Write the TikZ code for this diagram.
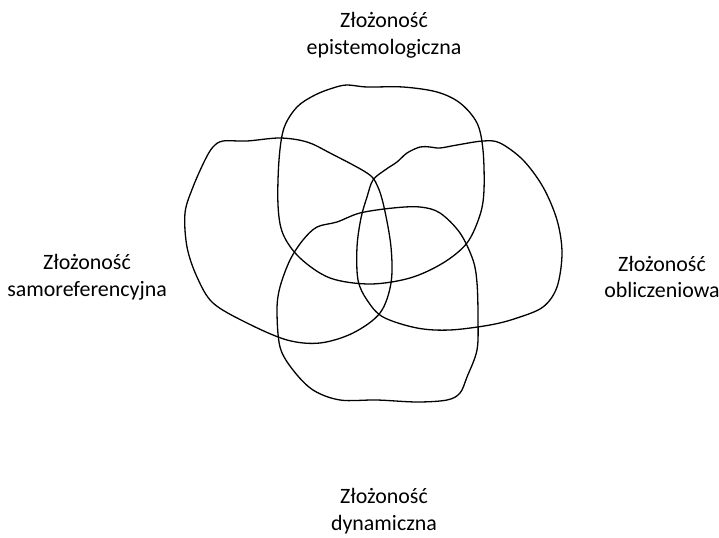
\documentclass[tikz,border=0pt]{standalone}
\usepackage{fontspec}
\setmainfont{Carlito}
\begin{document}
\begin{tikzpicture}[x=1bp,y=-1bp,
  loop/.style={draw=black,line width=1.3bp,line join=round},
  label/.style={align=center,font=\fontsize{22}{27}\selectfont,inner sep=0pt}]
\useasboundingbox (0,0) rectangle (719,538);

% epistemological loop (top)
\draw[loop] plot[smooth cycle,tension=0.55] coordinates {
  (347,85) (367,87) (403,87) (437,92) (460,103) (477,123) (483,150)
  (484,190) (480,215) (467,243) (443,263) (410,278) (370,284) (330,278)
  (300,258) (283,234) (278,205) (279,160) (284,128) (297,107) (315,95) (333,88)};

% computational loop (right)
\draw[loop] plot[smooth cycle,tension=0.55] coordinates {
  (373,180) (385,170) (397,162) (407,153) (420,147) (430,147) (440,148)
  (457,145) (483,141) (500,143) (523,160) (543,187) (557,220) (562,253)
  (557,287) (543,307) (517,318) (490,325) (450,330) (417,328) (383,317)
  (367,300) (358,280) (357,247) (361,218) (367,197)};

% self-referential loop (left)
\draw[loop] plot[smooth cycle,tension=0.55] coordinates {
  (223,141) (247,141) (280,138) (307,142) (330,153) (367,173) (377,185)
  (384,207) (391,247) (391,283) (380,313) (353,333) (320,343) (287,340)
  (247,323) (213,303) (197,277) (187,247) (185,213) (193,187) (205,160) (213,147)};

% dynamic loop (bottom)
\draw[loop] plot[smooth cycle,tension=0.55] coordinates {
  (337,222) (360,213) (393,208) (420,207) (440,213) (460,233) (473,260)
  (477,283) (478,317) (477,350) (467,377) (460,393) (447,400) (417,402)
  (377,400) (340,400) (313,390) (293,370) (280,347) (277,310) (280,287)
  (290,260) (303,240) (317,227)};

\node[label] (epi) at (384,35) {Złożoność\\epistemologiczna};
\node[label] (sam) at (87,277) {Złożoność\\samoreferencyjna};
\node[label] (obl) at (662,277) {Złożoność\\obliczeniowa};
\node[label] (dyn) at (384,511) {Złożoność\\dynamiczna};
\end{tikzpicture}
\end{document}
